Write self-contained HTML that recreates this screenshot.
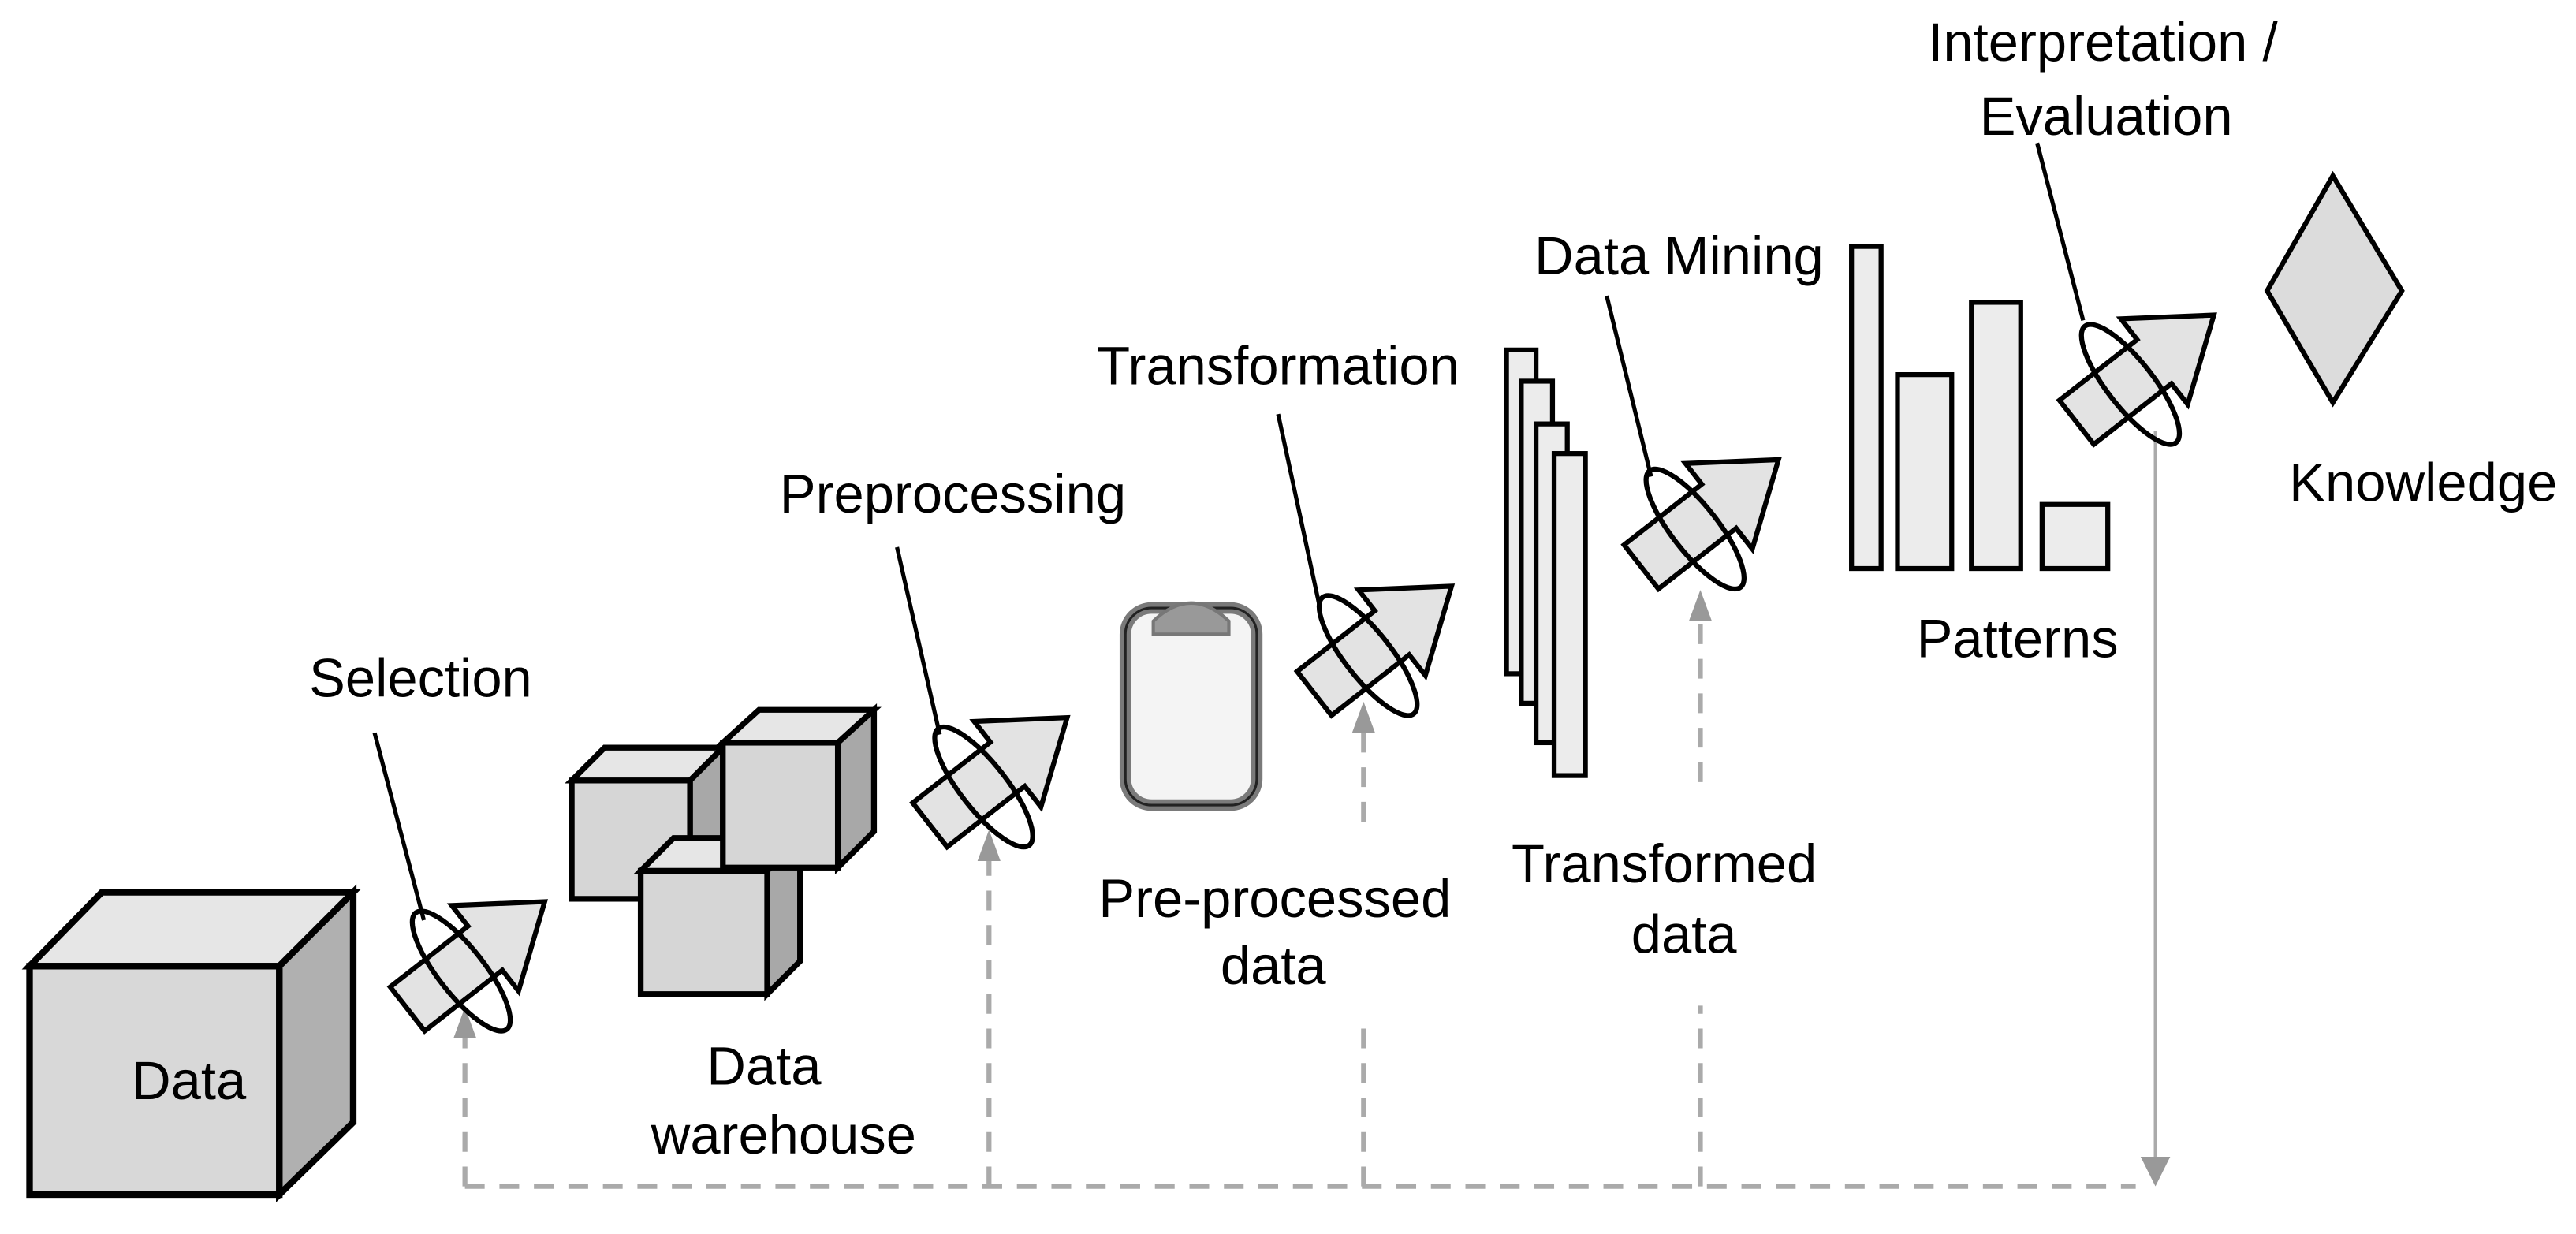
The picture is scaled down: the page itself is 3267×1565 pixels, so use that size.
<!DOCTYPE html>
<html><head><meta charset="utf-8"><style>
html,body{margin:0;padding:0;background:#fff;}
svg{display:block;}
text{font-family:"Liberation Sans",Arial,sans-serif;font-size:33px;fill:#000;}
</style></head><body>
<svg width="3267" height="1565" viewBox="0 0 1568 751" preserveAspectRatio="none" xmlns="http://www.w3.org/2000/svg">
<defs>
<g id="arr">
<path d="M-52,-17 L8,-17 L8,-33 L54,0 L8,33 L8,17 L-52,17 Z" fill="#e3e3e3" stroke="#000" stroke-width="3" stroke-linejoin="miter"/>
<ellipse cx="-12" cy="2" rx="14" ry="45" fill="none" stroke="#000" stroke-width="3"/>
</g>
</defs>

<g stroke="#aaa" stroke-width="3" fill="none" stroke-dasharray="12,9">
<line x1="283" y1="722" x2="1300" y2="722"/>
<line x1="283" y1="722" x2="283" y2="632"/>
<line x1="602" y1="722" x2="602" y2="524"/>
<line x1="830" y1="722" x2="830" y2="625"/>
<line x1="830" y1="500" x2="830" y2="446"/>
<line x1="1035" y1="722" x2="1035" y2="612"/>
<line x1="1035" y1="476" x2="1035" y2="378"/>
</g>
<line x1="1312" y1="262" x2="1312" y2="705" stroke="#aaa" stroke-width="2"/>
<g fill="#999">
<path d="M283,613 L276,632 L290,632 Z"/>
<path d="M602,505 L595,524 L609,524 Z"/>
<path d="M830,427 L823,446 L837,446 Z"/>
<path d="M1035,359 L1028,378 L1042,378 Z"/>
<path d="M1312,722 L1303,704 L1321,704 Z"/>
</g>

<g stroke="#000" stroke-width="4" stroke-linejoin="miter">
<path d="M18,588 L62,543 L215,543 L170,588 Z" fill="#e6e6e6"/>
<path d="M170,588 L215,543 L215,683 L170,727 Z" fill="#b0b0b0"/>
<rect x="18" y="588" width="152" height="139" fill="#d8d8d8"/>
</g>
<text x="115" y="669" text-anchor="middle">Data</text>

<g stroke="#000" stroke-width="3.5" stroke-linejoin="miter">
<path d="M348,475 L368,455 L440,455 L420,475 Z" fill="#e6e6e6"/>
<path d="M420,475 L440,455 L440,527 L420,547 Z" fill="#a8a8a8"/>
<rect x="348" y="475" width="72" height="72" fill="#d6d6d6"/>
<path d="M390,530 L410,510 L487,510 L467,530 Z" fill="#e6e6e6"/>
<path d="M467,530 L487,510 L487,585 L467,605 Z" fill="#a8a8a8"/>
<rect x="390" y="530" width="77" height="75" fill="#d6d6d6"/>
<path d="M440,452 L462,432 L532,432 L510,452 Z" fill="#e6e6e6"/>
<path d="M510,452 L532,432 L532,506 L510,528 Z" fill="#a8a8a8"/>
<rect x="440" y="452" width="70" height="76" fill="#d6d6d6"/>
</g>
<text x="465" y="660" text-anchor="middle">Data</text>
<text x="477" y="702" text-anchor="middle">warehouse</text>

<rect x="685" y="370" width="80" height="120" rx="16" fill="#f4f4f4" stroke="#7a7a7a" stroke-width="7"/>
<rect x="685" y="370" width="80" height="120" rx="16" fill="none" stroke="#222" stroke-width="1.5"/>
<path d="M702,386 L702,378 Q725,356 748,378 L748,386 Z" fill="#999" stroke="#777" stroke-width="2"/>
<text x="776" y="558" text-anchor="middle">Pre-processed</text>
<text x="775" y="599" text-anchor="middle">data</text>

<g stroke="#000" stroke-width="3" fill="#ececec">
<rect x="917" y="213" width="18" height="197"/>
<rect x="926" y="232" width="19" height="196"/>
<rect x="935" y="258" width="19" height="194"/>
<rect x="946" y="276" width="19" height="196"/>
</g>
<text x="1013" y="537" text-anchor="middle">Transformed</text>
<text x="1025" y="580" text-anchor="middle">data</text>

<g stroke="#000" stroke-width="3" fill="#ececec">
<rect x="1127" y="150" width="18" height="196"/>
<rect x="1155" y="228" width="33" height="118"/>
<rect x="1200" y="184" width="30" height="162"/>
<rect x="1243" y="307" width="40" height="39"/>
</g>
<text x="1228" y="400" text-anchor="middle">Patterns</text>

<path d="M1420,107 L1462,177 L1420,245 L1380,177 Z" fill="#dcdcdc" stroke="#000" stroke-width="3"/>
<text x="1475" y="305" text-anchor="middle">Knowledge</text>

<use href="#arr" transform="translate(289,582) rotate(-38)"/>
<use href="#arr" transform="translate(607,470) rotate(-38)"/>
<use href="#arr" transform="translate(841,390) rotate(-38)"/>
<use href="#arr" transform="translate(1040,313) rotate(-38)"/>
<use href="#arr" transform="translate(1305,225) rotate(-38)"/>

<g stroke="#000" stroke-width="2.5">
<line x1="228" y1="446" x2="258" y2="560"/>
<line x1="546" y1="333" x2="572" y2="447"/>
<line x1="778" y1="252" x2="803" y2="368"/>
<line x1="978" y1="180" x2="1005" y2="290"/>
<line x1="1240" y1="87" x2="1268" y2="195"/>
</g>

<text x="256" y="424" text-anchor="middle">Selection</text>
<text x="580" y="312" text-anchor="middle">Preprocessing</text>
<text x="778" y="234" text-anchor="middle">Transformation</text>
<text x="1022" y="167" text-anchor="middle">Data Mining</text>
<text x="1280" y="37" text-anchor="middle">Interpretation /</text>
<text x="1282" y="82" text-anchor="middle">Evaluation</text>
</svg>
</body></html>
